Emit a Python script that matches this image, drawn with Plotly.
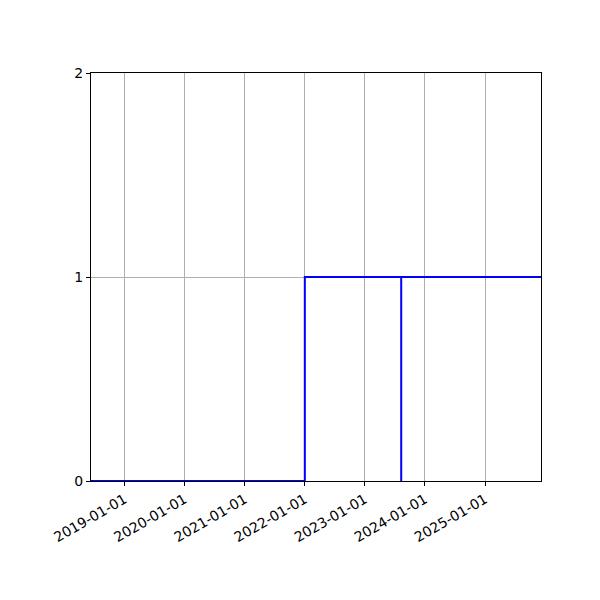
import plotly.graph_objects as go

# step series values
dates = ["2018-06-11", "2022-01-01", "2022-01-01", "2025-12-07"]
values = [0, 0, 1, 1]

# the extra vertical jump in mid-2023
jump_dates = ["2023-08-10", "2023-08-10"]
jump_values = [0, 1]

x_range = ["2018-06-11", "2025-12-07"]
x_ticks = ["2019-01-01", "2020-01-01", "2021-01-01", "2022-01-01",
           "2023-01-01", "2024-01-01", "2025-01-01"]
y_ticks = [0, 1, 2]

fig = go.Figure()

fig.add_trace(go.Scatter(
    x=dates, y=values, mode="lines",
    line=dict(color="blue", width=2), showlegend=False
))
fig.add_trace(go.Scatter(
    x=jump_dates, y=jump_values, mode="lines",
    line=dict(color="blue", width=2), showlegend=False
))

# page body has an 8px margin, so shift the plot area back
fig.update_layout(
    width=600, height=600,
    margin=dict(l=83, r=67, t=65, b=127),
    plot_bgcolor="white", paper_bgcolor="white",
    font=dict(family="DejaVu Sans", size=14, color="black"),
)

fig.update_xaxes(
    type="date", range=x_range,
    tickmode="array", tickvals=x_ticks, ticktext=x_ticks,
    tickangle=-30, ticks="outside", ticklen=4, tickcolor="black",
    showline=True, linecolor="black", linewidth=1, mirror=True,
    showgrid=True, gridcolor="#b0b0b0", gridwidth=1, zeroline=False,
)
fig.update_yaxes(
    range=[0, 2], tickmode="array", tickvals=y_ticks,
    ticks="outside", ticklen=4, tickcolor="black",
    showline=True, linecolor="black", linewidth=1, mirror=True,
    showgrid=True, gridcolor="#b0b0b0", gridwidth=1, zeroline=False,
)

fig.write_html("out.html")
